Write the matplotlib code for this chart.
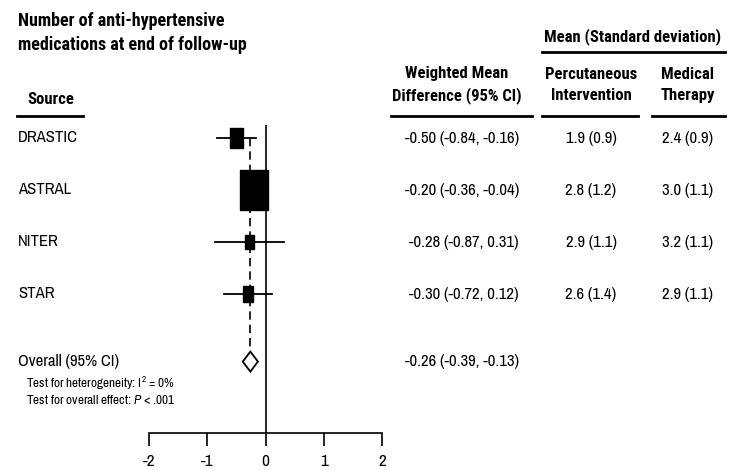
import numpy as np
import matplotlib
matplotlib.use("Agg")
import matplotlib.pyplot as plt
from matplotlib.patches import Rectangle, Polygon
from matplotlib.transforms import blended_transform_factory

studies = ["DRASTIC", "ASTRAL", "NITER", "STAR"]
wmd = [-0.50, -0.20, -0.28, -0.30]
ci_low = [-0.84, -0.36, -0.87, -0.72]
ci_high = [-0.16, -0.04, 0.31, 0.12]
weights = [15, 68, 7, 10]
pci_mean = ["1.9 (0.9)", "2.8 (1.2)", "2.9 (1.1)", "2.6 (1.4)"]
med_mean = ["2.4 (0.9)", "3.0 (1.1)", "3.2 (1.1)", "2.9 (1.1)"]
overall = -0.26
overall_ci = (-0.39, -0.13)
xticks = [-2, -1, 0, 1, 2]

FONT = ["Archivo Narrow", "Roboto Condensed", "Liberation Sans", "DejaVu Sans"]
BOLD = ["Roboto Condensed", "PT Sans Narrow", "Liberation Sans", "DejaVu Sans"]
plt.rcParams["font.family"] = FONT
plt.rcParams["mathtext.fontset"] = "custom"
plt.rcParams["mathtext.rm"] = "Archivo Narrow"
plt.rcParams["mathtext.it"] = "Archivo Narrow:italic"

W, H = 733, 470
fig = plt.figure(figsize=(W / 100, H / 100), dpi=100)


def fx(x):
    return x / W


def fy(y):
    return 1 - y / H


# forest plot axes: x -2..2 spans px 149..382, axis line at px 433
ax = fig.add_axes([fx(149), fy(433), (382 - 149) / W, (433 - 125) / H])
row_px = 52.0
ax.set_xlim(-2, 2)
ax.set_ylim((433 - 138) / row_px, (125 - 138) / row_px)
for s in ["top", "right", "left"]:
    ax.spines[s].set_visible(False)
ax.spines["bottom"].set_linewidth(1.2)
ax.set_yticks([])
ax.set_xticks(xticks)
ax.set_xticklabels([str(t) for t in xticks], fontsize=12.5)
ax.tick_params(axis="x", direction="out", length=9, width=1.2, pad=6)
ax.patch.set_alpha(0)

rows = np.arange(len(studies))
overall_row = 4.3
xpx = 233 / 4.0  # px per unit

ax.axvline(0, color="black", lw=1.2)
ax.plot([overall, overall], [0, overall_row - 0.2], color="black", lw=1.2,
        dashes=(5, 3))

for i, r in enumerate(rows):
    ax.plot([ci_low[i], ci_high[i]], [r, r], color="black", lw=1.3)
    side = 3.4 * np.sqrt(weights[i])
    bw = side / xpx
    bh = side * 1.45 / row_px
    ax.add_patch(Rectangle((wmd[i] - bw / 2, r - bh / 2), bw, bh,
                           facecolor="black", edgecolor="black", zorder=3))

dh = 10 / row_px
ax.add_patch(Polygon([[overall_ci[0], overall_row], [overall, overall_row - dh],
                      [overall_ci[1], overall_row], [overall, overall_row + dh]],
                     closed=True, facecolor="white", edgecolor="black",
                     lw=1.3, zorder=3))

# text columns
tr = blended_transform_factory(fig.transFigure, ax.transData)
for i, r in enumerate(rows):
    fig.text(fx(18), r, studies[i], transform=tr, fontsize=12, va="center")
    fig.text(fx(519), r, f"{wmd[i]:.2f} ({ci_low[i]:.2f}, {ci_high[i]:.2f})",
             transform=tr, fontsize=12, va="center", ha="right")
    fig.text(fx(591), r, pci_mean[i], transform=tr, fontsize=12,
             va="center", ha="center")
    fig.text(fx(688), r, med_mean[i], transform=tr, fontsize=12,
             va="center", ha="center")

fig.text(fx(18), overall_row, "Overall (95% CI)", transform=tr, fontsize=12,
         va="center")
fig.text(fx(519), overall_row,
         f"{overall:.2f} ({overall_ci[0]:.2f}, {overall_ci[1]:.2f})",
         transform=tr, fontsize=12, va="center", ha="right")
fig.text(fx(26), fy(383), "Test for heterogeneity: $\\mathrm{I}^2$ = 0%",
         fontsize=9.5, va="center")
fig.text(fx(26), fy(400), "Test for overall effect: $P$ < .001", fontsize=9.5,
         va="center")

# headers
fig.text(fx(18), fy(21), "Number of anti-hypertensive", fontsize=13,
         fontweight="bold", va="center", family=BOLD)
fig.text(fx(18), fy(45), "medications at end of follow-up", fontsize=13,
         fontweight="bold", va="center", family=BOLD)
fig.text(fx(51), fy(100), "Source", fontsize=12, fontweight="bold",
         va="center", ha="center", family=BOLD)
fig.text(fx(457), fy(85), "Weighted Mean\nDifference (95% CI)", fontsize=12,
         fontweight="bold", ha="center", va="center", linespacing=1.5,
         family=BOLD)
fig.text(fx(591), fy(85), "Percutaneous\nIntervention", fontsize=12,
         fontweight="bold", ha="center", va="center", linespacing=1.5,
         family=BOLD)
fig.text(fx(688), fy(85), "Medical\nTherapy", fontsize=12,
         fontweight="bold", ha="center", va="center", linespacing=1.5,
         family=BOLD)
fig.text(fx(633), fy(37), "Mean (Standard deviation)", fontsize=12,
         fontweight="bold", ha="center", va="center", family=BOLD)

for x0, x1, y in [(17, 83, 116), (391, 532, 116), (542, 638, 116),
                  (652, 725, 116), (542, 725, 52)]:
    fig.add_artist(plt.Line2D([fx(x0), fx(x1)], [fy(y), fy(y)],
                              transform=fig.transFigure, color="black",
                              lw=2))

fig.savefig("out.png", dpi=100)
